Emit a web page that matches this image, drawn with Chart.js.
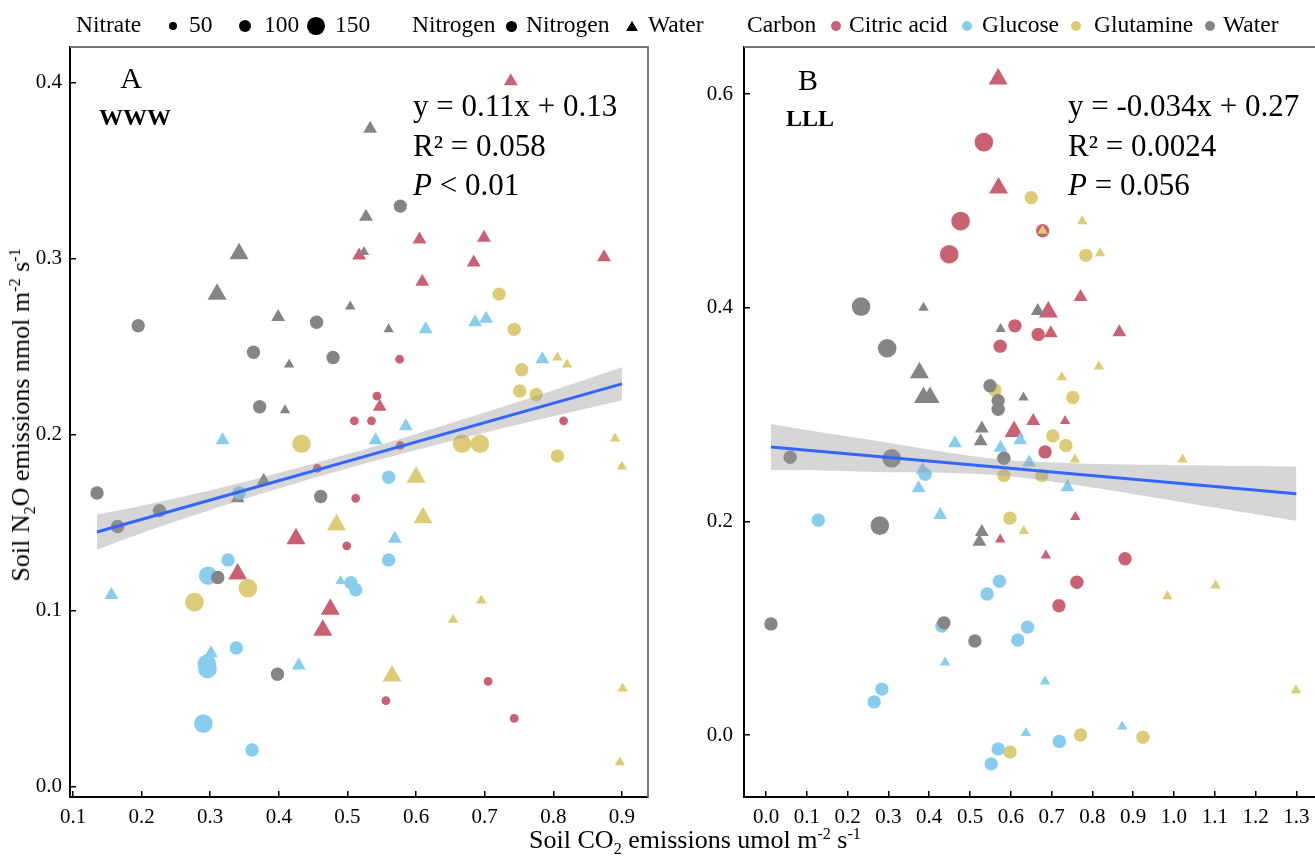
<!DOCTYPE html>
<html>
<head>
<meta charset="utf-8">
<title>Soil N2O vs CO2 emissions</title>
<script src="https://cdn.jsdelivr.net/npm/chart.js@4.4.1/dist/chart.umd.min.js"></script>
<style>
  html, body { margin: 0; padding: 0; overflow: hidden; background: #fff; }
  body {
    position: relative;
    width: 1315px;
    height: 862px;
    font-family: "Liberation Serif", "Times New Roman", serif;
    color: #000;
  }
  canvas { position: absolute; top: 0; }
  #panelA { left: 0; }
  #panelB { left: 680px; }
  .txt { position: absolute; white-space: nowrap; line-height: 1; }
  .sup { font-size: 0.62em; position: relative; top: -0.55em; }
  .sub { font-size: 0.62em; position: relative; top: 0.35em; }
  .bold { font-weight: bold; }
  .key { position: absolute; border-radius: 50%; }
  .key-tri { position: absolute; width: 0; height: 0; }
</style>
</head>
<body>
<canvas id="panelA" width="660" height="862"></canvas>
<canvas id="panelB" width="660" height="862"></canvas>

<script>
// ---- categories ----
const CARBON_LEVELS = ["Citric acid", "Glucose", "Glutamine", "Water"];
const NITROGEN_LEVELS = ["Nitrogen", "Water"];
const NITRATE_LEVELS = [50, 100, 150];

const CARBON_COLORS = {
  "Citric acid": "#CA6172",
  Glucose: "#88CCEE",
  Glutamine: "#DDCC77",
  Water: "#858585",
};

// ---- axes ----
const X_TICKS_A = [0.1, 0.2, 0.3, 0.4, 0.5, 0.6, 0.7, 0.8, 0.9];
const Y_TICKS_A = [0.0, 0.1, 0.2, 0.3, 0.4];
const X_RANGE_A = [0.0956, 0.938];
const Y_RANGE_A = [-0.0057, 0.4204];

const X_TICKS_B = [0.0, 0.1, 0.2, 0.3, 0.4, 0.5, 0.6, 0.7, 0.8, 0.9, 1.0, 1.1, 1.2, 1.3];
const Y_TICKS_B = [0.0, 0.2, 0.4, 0.6];
const X_RANGE_B = [-0.054, 1.353];
const Y_RANGE_B = [-0.058, 0.644];

// ---- panel A (WWW): [CO2, N2O, nitrate] ----
const waterNitrogenA = [
  [0.135, 0.167, 100], [0.165, 0.148, 100], [0.226, 0.157, 100], [0.195, 0.262, 100],
  [0.311, 0.119, 100], [0.363, 0.247, 100], [0.372, 0.216, 100], [0.398, 0.064, 100],
  [0.455, 0.264, 100], [0.461, 0.165, 100], [0.479, 0.244, 100], [0.577, 0.330, 100],
];
const waterWaterA = [
  [0.342, 0.303, 150], [0.310, 0.280, 150], [0.399, 0.267, 100], [0.415, 0.240, 50],
  [0.409, 0.214, 50], [0.378, 0.174, 100], [0.340, 0.164, 100], [0.533, 0.374, 100],
  [0.527, 0.324, 100], [0.524, 0.304, 50], [0.504, 0.273, 50], [0.560, 0.260, 50],
];
const citricNitrogenA = [
  [0.456, 0.181, 50], [0.510, 0.208, 50], [0.535, 0.208, 50], [0.577, 0.194, 50],
  [0.543, 0.222, 50], [0.576, 0.243, 50], [0.512, 0.164, 50], [0.499, 0.137, 50],
  [0.815, 0.208, 50], [0.705, 0.060, 50], [0.556, 0.049, 50], [0.743, 0.039, 50],
];
const citricWaterA = [
  [0.738, 0.401, 100], [0.605, 0.311, 100], [0.699, 0.312, 100], [0.517, 0.302, 100],
  [0.684, 0.298, 100], [0.874, 0.301, 100], [0.609, 0.287, 100], [0.547, 0.216, 100],
  [0.425, 0.141, 150], [0.340, 0.121, 150], [0.475, 0.101, 150], [0.464, 0.089, 150],
];
const glucoseNitrogenA = [
  [0.342, 0.167, 100], [0.326, 0.129, 100], [0.297, 0.120, 150], [0.295, 0.070, 150],
  [0.296, 0.067, 150], [0.338, 0.079, 100], [0.290, 0.036, 150], [0.361, 0.021, 100],
  [0.560, 0.176, 100], [0.560, 0.129, 100], [0.505, 0.116, 100], [0.512, 0.112, 100],
];
const glucoseWaterA = [
  [0.318, 0.197, 100], [0.156, 0.109, 100], [0.301, 0.076, 100], [0.429, 0.069, 100],
  [0.585, 0.205, 100], [0.541, 0.197, 100], [0.569, 0.141, 100], [0.490, 0.117, 50],
  [0.614, 0.260, 100], [0.686, 0.264, 100], [0.702, 0.266, 100], [0.784, 0.243, 100],
];
const glutamineNitrogenA = [
  [0.433, 0.195, 150], [0.355, 0.113, 150], [0.277, 0.105, 150], [0.667, 0.195, 150],
  [0.693, 0.195, 150], [0.806, 0.188, 100], [0.721, 0.280, 100], [0.743, 0.260, 100],
  [0.754, 0.237, 100], [0.751, 0.225, 100], [0.775, 0.223, 100],
];
const glutamineWaterA = [
  [0.890, 0.198, 50], [0.900, 0.182, 50], [0.806, 0.244, 50], [0.820, 0.240, 50],
  [0.600, 0.176, 150], [0.484, 0.149, 150], [0.610, 0.153, 150], [0.695, 0.106, 50],
  [0.654, 0.095, 50], [0.565, 0.063, 150], [0.901, 0.056, 50], [0.897, 0.014, 50],
];

// ---- panel B (LLL) ----
const waterNitrogenB = [
  [0.233, 0.401, 150], [0.297, 0.362, 150], [0.308, 0.259, 150], [0.279, 0.196, 150],
  [0.059, 0.260, 100], [0.012, 0.104, 100], [0.436, 0.105, 100], [0.512, 0.088, 100],
  [0.549, 0.327, 100], [0.569, 0.313, 100], [0.569, 0.305, 100], [0.583, 0.259, 100],
];
const waterWaterB = [
  [0.386, 0.400, 50], [0.575, 0.380, 50], [0.376, 0.339, 150], [0.386, 0.316, 150],
  [0.402, 0.316, 150], [0.529, 0.287, 100], [0.526, 0.275, 100], [0.529, 0.190, 100],
  [0.523, 0.181, 100], [0.666, 0.397, 100], [0.631, 0.316, 50],
];
const citricNitrogenB = [
  [0.534, 0.555, 150], [0.477, 0.481, 150], [0.449, 0.450, 150], [0.574, 0.364, 100],
  [0.610, 0.383, 100], [0.667, 0.375, 100], [0.678, 0.472, 100], [0.684, 0.265, 100],
  [0.880, 0.165, 100], [0.762, 0.143, 100], [0.718, 0.121, 100],
];
const citricWaterB = [
  [0.569, 0.614, 150], [0.570, 0.512, 150], [0.692, 0.396, 150], [0.771, 0.410, 100],
  [0.698, 0.376, 100], [0.866, 0.377, 100], [0.655, 0.294, 100], [0.733, 0.294, 50],
  [0.608, 0.284, 150], [0.758, 0.204, 50], [0.574, 0.183, 50], [0.686, 0.168, 50],
];
const glucoseNitrogenB = [
  [0.128, 0.201, 100], [0.390, 0.244, 100], [0.572, 0.144, 100], [0.542, 0.132, 100],
  [0.431, 0.102, 100], [0.284, 0.043, 100], [0.265, 0.031, 100], [0.569, -0.013, 100],
  [0.552, -0.027, 100], [0.641, 0.101, 100], [0.617, 0.089, 100], [0.719, -0.006, 100],
];
const glucoseWaterB = [
  [0.463, 0.273, 100], [0.575, 0.269, 100], [0.384, 0.248, 100], [0.374, 0.231, 100],
  [0.427, 0.206, 100], [0.439, 0.068, 50], [0.623, 0.276, 100], [0.645, 0.255, 100],
  [0.739, 0.232, 100], [0.684, 0.050, 50], [0.637, 0.002, 50], [0.873, 0.008, 50],
];
const glutamineNitrogenB = [
  [0.561, 0.323, 100], [0.583, 0.243, 100], [0.598, 0.203, 100], [0.598, -0.016, 100],
  [0.650, 0.503, 100], [0.784, 0.449, 100], [0.752, 0.316, 100], [0.703, 0.280, 100],
  [0.735, 0.271, 100], [0.676, 0.243, 100], [0.771, 0.000, 100], [0.924, -0.002, 100],
];
const glutamineWaterB = [
  [0.678, 0.472, 50], [0.775, 0.481, 50], [0.819, 0.451, 50], [0.816, 0.345, 50],
  [0.725, 0.335, 50], [0.757, 0.258, 50], [1.021, 0.258, 50], [0.632, 0.191, 50],
  [1.102, 0.140, 50], [0.984, 0.130, 50], [1.299, 0.042, 50],
];

// ---- linear fits and 95% bands ----
const FIT_A = { slope: 0.11, intercept: 0.13, r2: "0.058", p: "< 0.01" };
const FIT_B = { slope: -0.034, intercept: 0.27, r2: "0.0024", p: "= 0.056" };
const FIT_X_A = [0.135, 0.9];
const FIT_X_B = [0.012, 1.3];

const BAND_X_A = [0.135, 0.2, 0.3, 0.4, 0.5, 0.6, 0.7, 0.8, 0.9];
const BAND_LOW_A = [0.1349, 0.1442, 0.1574, 0.1696, 0.1809, 0.1914, 0.2013, 0.2106, 0.2195];
const BAND_HIGH_A = [0.1549, 0.1598, 0.1686, 0.1784, 0.1891, 0.2006, 0.2127, 0.2254, 0.2385];

const BAND_X_B = [0.012, 0.15, 0.3, 0.45, 0.6, 0.75, 0.9, 1.05, 1.2, 1.3];
const BAND_LOW_B = [0.2481, 0.2474, 0.2460, 0.2452, 0.2421, 0.2345, 0.2256, 0.2160, 0.2067, 0.2005];
const BAND_HIGH_B = [0.2911, 0.2824, 0.2736, 0.2642, 0.2571, 0.2545, 0.2532, 0.2526, 0.2517, 0.2511];

// ---- drawing ----
const FONT = "Liberation Serif";
Chart.defaults.font.family = FONT;
Chart.defaults.color = "#000";

// circle radius / triangle circumradius per nitrate level
const CIRCLE_R = { 50: 4.4, 100: 6.7, 150: 9.3 };
const TRIANGLE_R = { 50: 6, 100: 8, 150: 11 };

function pointDataset(points, carbon, nitrogen) {
  const isCircle = nitrogen === "Nitrogen";
  return {
    type: "scatter",
    label: `${carbon} / ${nitrogen}`,
    data: points.map(([x, y, n]) => ({ x, y, n })),
    pointStyle: isCircle ? "circle" : "triangle",
    pointRadius: (ctx) => (isCircle ? CIRCLE_R : TRIANGLE_R)[ctx.raw ? ctx.raw.n : 100],
    backgroundColor: CARBON_COLORS[carbon],
    borderWidth: 0,
    order: 2,
  };
}

function fitDatasets(fit, fitX, bandX, bandLow, bandHigh) {
  return [
    {
      type: "line",
      data: bandX.map((x, i) => ({ x, y: bandLow[i] })),
      borderColor: "transparent",
      borderWidth: 0,
      pointRadius: 0,
      tension: 0.4,
      fill: false,
      order: 1,
    },
    {
      type: "line",
      data: bandX.map((x, i) => ({ x, y: bandHigh[i] })),
      borderColor: "transparent",
      borderWidth: 0,
      pointRadius: 0,
      tension: 0.4,
      fill: "-1",
      backgroundColor: "rgba(153,153,153,0.4)",
      order: 1,
    },
    {
      type: "line",
      data: fitX.map((x) => ({ x, y: fit.slope * x + fit.intercept })),
      borderColor: "#3366FF",
      borderWidth: 3,
      pointRadius: 0,
      fill: false,
      order: 0,
    },
  ];
}

function axis(range, ticks, fitSize, padding, isX) {
  return {
    type: "linear",
    min: range[0],
    max: range[1],
    afterBuildTicks: (scale) => {
      scale.ticks = ticks.map((value) => ({ value }));
    },
    afterFit: (scale) => {
      if (isX) scale.height = fitSize;
      else scale.width = fitSize;
    },
    grid: { display: true, drawOnChartArea: false, drawTicks: true, tickLength: -6, color: "#000", lineWidth: 1.5 },
    border: { display: true, color: "#000", width: 2 },
    ticks: {
      color: "#000",
      padding,
      autoSkip: false,
      maxRotation: 0,
      font: { family: FONT, size: 21 },
      callback: (v) => Number(v).toFixed(1),
    },
  };
}

// grey top/right edges of the panel box
const panelFrame = {
  id: "panelFrame",
  beforeDatasetsDraw(chart) {
    const { ctx, chartArea: a } = chart;
    ctx.save();
    ctx.strokeStyle = "#777";
    ctx.lineWidth = 2;
    ctx.beginPath();
    ctx.moveTo(a.left, a.top);
    ctx.lineTo(a.right, a.top);
    ctx.lineTo(a.right, a.bottom);
    ctx.stroke();
    ctx.restore();
  },
};

function buildPanel(canvasId, groups, fits, scales, padRight, yWidth, yPad) {
  const datasets = groups.map(([pts, carbon, nitrogen]) => pointDataset(pts, carbon, nitrogen));
  datasets.push(...fits);
  return new Chart(document.getElementById(canvasId), {
    type: "scatter",
    data: { datasets },
    options: {
      responsive: false,
      maintainAspectRatio: false,
      animation: false,
      events: [],
      layout: { autoPadding: false, padding: { left: 0, right: padRight, top: 47, bottom: 0 } },
      plugins: { legend: { display: false }, tooltip: { enabled: false } },
      scales: {
        x: axis(scales.x, scales.xTicks, 65, 14, true),
        y: axis(scales.y, scales.yTicks, yWidth, yPad, false),
      },
    },
    plugins: [panelFrame],
  });
}

// earlier groups sit on top
buildPanel(
  "panelA",
  [
    [waterNitrogenA, "Water", "Nitrogen"],
    [glutamineWaterA, "Glutamine", "Water"],
    [glucoseNitrogenA, "Glucose", "Nitrogen"],
    [waterWaterA, "Water", "Water"],
    [glucoseWaterA, "Glucose", "Water"],
    [glutamineNitrogenA, "Glutamine", "Nitrogen"],
    [citricWaterA, "Citric acid", "Water"],
    [citricNitrogenA, "Citric acid", "Nitrogen"],
  ],
  fitDatasets(FIT_A, FIT_X_A, BAND_X_A, BAND_LOW_A, BAND_HIGH_A),
  { x: X_RANGE_A, y: Y_RANGE_A, xTicks: X_TICKS_A, yTicks: Y_TICKS_A },
  12, 70, 14
);

buildPanel(
  "panelB",
  [
    [waterNitrogenB, "Water", "Nitrogen"],
    [glutamineWaterB, "Glutamine", "Water"],
    [glucoseNitrogenB, "Glucose", "Nitrogen"],
    [waterWaterB, "Water", "Water"],
    [glucoseWaterB, "Glucose", "Water"],
    [glutamineNitrogenB, "Glutamine", "Nitrogen"],
    [citricWaterB, "Citric acid", "Water"],
    [citricNitrogenB, "Citric acid", "Nitrogen"],
  ],
  fitDatasets(FIT_B, FIT_X_B, BAND_X_B, BAND_LOW_B, BAND_HIGH_B),
  { x: X_RANGE_B, y: Y_RANGE_B, xTicks: X_TICKS_B, yTicks: Y_TICKS_B },
  22, 64, 17
);

// ---- text and legend (HTML) ----
const ASCENT = 0.8375; // baseline offset for line-height 1

function addText(html, x, baseline, size, opts = {}) {
  const el = document.createElement("div");
  el.className = "txt" + (opts.cls ? " " + opts.cls : "");
  el.innerHTML = html;
  el.style.fontSize = size + "px";
  el.style.left = x + "px";
  el.style.top = baseline - ASCENT * size + "px";
  if (opts.center) el.style.transform = "translateX(-50%)";
  document.body.appendChild(el);
  return el;
}

function addDot(cx, cy, r, color) {
  const el = document.createElement("div");
  el.className = "key";
  Object.assign(el.style, {
    left: cx - r + "px", top: cy - r + "px", width: 2 * r + "px", height: 2 * r + "px", background: color,
  });
  document.body.appendChild(el);
}

function addTriangle(cx, cy, side, color) {
  const el = document.createElement("div");
  el.className = "key-tri";
  const h = side * 0.866;
  Object.assign(el.style, {
    left: cx - side / 2 + "px",
    top: cy - h / 2 + "px",
    borderLeft: side / 2 + "px solid transparent",
    borderRight: side / 2 + "px solid transparent",
    borderBottom: h + "px solid " + color,
  });
  document.body.appendChild(el);
}

const LEGEND_SIZE = 23.5;
const LEGEND_BASE = 33;
const LEGEND_MID = 26;

addText("Nitrate", 76, LEGEND_BASE, LEGEND_SIZE);
const nitrateKeyX = [173, 245, 316];
const nitrateTextX = [189, 264, 335];
NITRATE_LEVELS.forEach((lvl, i) => {
  addDot(nitrateKeyX[i], LEGEND_MID, CIRCLE_R[lvl] - 0.4, "#000");
  addText(String(lvl), nitrateTextX[i], LEGEND_BASE, LEGEND_SIZE);
});

addText("Nitrogen", 412, LEGEND_BASE, LEGEND_SIZE);
addDot(511, LEGEND_MID, 5.5, "#000");
addText(NITROGEN_LEVELS[0], 526, LEGEND_BASE, LEGEND_SIZE);
addTriangle(632, LEGEND_MID, 12, "#000");
addText(NITROGEN_LEVELS[1], 648, LEGEND_BASE, LEGEND_SIZE);

addText("Carbon", 747, LEGEND_BASE, LEGEND_SIZE);
const carbonKeyX = [836, 967, 1076, 1210];
const carbonTextX = [849, 982, 1094, 1223];
CARBON_LEVELS.forEach((c, i) => {
  addDot(carbonKeyX[i], LEGEND_MID, 5, CARBON_COLORS[c]);
  addText(c, carbonTextX[i], LEGEND_BASE, LEGEND_SIZE);
});

// panel tags
addText("A", 131, 88, 30, { center: true });
addText("WWW", 135, 125, 24, { center: true, cls: "bold" });
addText("B", 808, 90, 30, { center: true });
addText("LLL", 810, 126, 24, { center: true, cls: "bold" });

// fit statistics
function fitText(fit, left) {
  const sign = fit.intercept >= 0 ? "+" : "-";
  addText(`y = ${fit.slope}x ${sign} ${Math.abs(fit.intercept)}`, left, 116, 31);
  addText(`R² = ${fit.r2}`, left, 156, 31);
  addText(`<i>P</i> ${fit.p.replace("<", "&lt;")}`, left, 195, 31);
}
fitText(FIT_A, 413);
fitText(FIT_B, 1068);

// axis titles
addText('Soil CO<span class="sub">2</span> emissions umol m<span class="sup">-2</span> s<span class="sup">-1</span>',
  695, 849, 26, { center: true });

const yTitle = addText('Soil N<span class="sub">2</span>O emissions nmol m<span class="sup">-2</span> s<span class="sup">-1</span>',
  0, 0, 26);
Object.assign(yTitle.style, {
  left: "21px", top: "415px", transform: "translate(-50%, -50%) rotate(-90deg)",
});
</script>
</body>
</html>
